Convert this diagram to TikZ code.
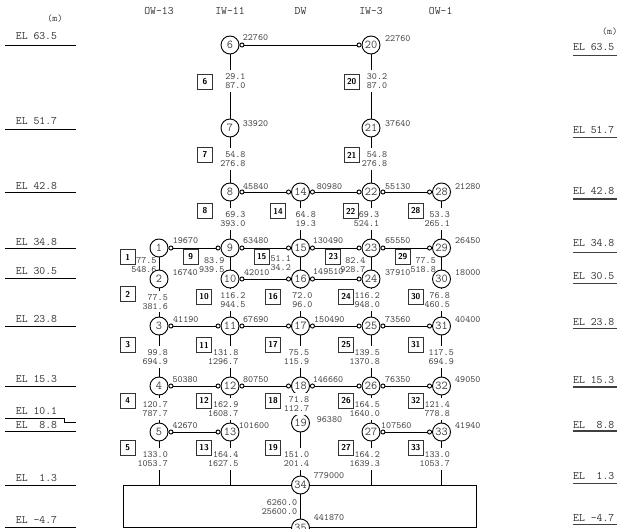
\documentclass[tikz,border=0pt]{standalone}
\usepackage{tikz}
\usetikzlibrary{arrows.meta}

\tikzset{
    frameline/.style={line width=0.9pt, black},
    pinned/.style={frameline, arrows={Circle[open,length=5pt]-Circle[open,length=5pt]}},
    joint/.style={circle, draw, fill=white, line width=0.9pt, minimum size=18pt, inner sep=0pt, text=black!75, font=\ttfamily\fontsize{12}{12}\selectfont},
    member/.style={draw, line width=0.9pt, black!80, minimum size=15pt, inner sep=0pt, text=black, font=\sffamily\bfseries\fontsize{8.5}{9}\selectfont},
    flow/.style={anchor=west, inner sep=0pt, text=black!75, font=\ttfamily\fontsize{9.6}{9}\selectfont},
    rate/.style={anchor=east, align=right, inner xsep=0pt, inner ysep=3pt, text=black!75, font=\ttfamily\fontsize{9.6}{9}\selectfont},
    ratecut/.style={rate, fill=white},
    level/.style={anchor=west, inner sep=0pt, text=black!80, font=\ttfamily\fontsize{11.4}{12}\selectfont},
    head/.style={inner sep=0pt, text=black!80, font=\ttfamily\fontsize{11.4}{12}\selectfont},
    unitmark/.style={inner sep=0pt, text=black!80, font=\ttfamily\fontsize{9.6}{12}\selectfont},
}

\begin{document}
\begin{tikzpicture}[x=1pt, y=-1pt]
    \useasboundingbox (0,0) rectangle (618,529);
    \fill[white] (0,0) rectangle (618,529);

    % column heads
    \foreach \n/\x/\t in {a/159/OW-13, b/230/IW-11, c/300.5/DW, d/371/IW-3, e/440.7/OW-1} {
        \node[head] (h\n) at (\x,11) {\t};
    }
    \node[unitmark] (uleft) at (55,19) {(m)};
    \node[unitmark, anchor=east] (uright) at (617.5,32) {(m)};

    % elevations, left
    \foreach \n/\ty/\ly/\t in {a/36/45/EL 63.5, b/120.7/129/EL 51.7, c/185.7/192/EL 42.8, d/241.7/248.3/EL 34.8, e/271/278.7/EL 30.5, f/319/326/EL 23.8, g/379/386/EL 15.3, h/425/431.7/EL~~8.8, i/477.7/485/EL~~1.3, j/520/527.3/EL -4.7} {
        \node[level] (el\n) at (15.7,\ty) {\t};
        \draw[frameline] (5,\ly) -- (76,\ly);
    }
    \node[level] (elk) at (15.7,410.7) {EL 10.1};
    \draw[frameline] (5,418.3) -- (64,418.3) -- (64,422.3) -- (76,422.3);

    % elevations, right
    \foreach \n/\ty/\ly/\t in {a/46.7/55.7/EL 63.5, b/130/137.5/EL 51.7, c/190.7/199/EL 42.8, d/243/252.7/EL 34.8, e/275.7/283.3/EL 30.5, f/321.7/328.3/EL 23.8, g/380/387/EL 15.3, h/425/431/EL~~8.8, i/476/483.3/EL~~1.3, j/517.7/524.3/EL -4.7} {
        \node[level] (er\n) at (573,\ty) {\t};
        \draw[line width=1.2pt, black!75] (572.7,\ly) -- (616.7,\ly);
    }

    % base frame
    \coordinate (ftl) at (123.7,485);
    \coordinate (fbr) at (476.7,527.3);
    \coordinate (f5) at (159,485);
    \coordinate (f13) at (230,485);
    \coordinate (f27) at (371,485);
    \coordinate (f33) at (441.5,485);
    \draw[frameline] (ftl) rectangle (fbr);

    % joints
    \foreach \n/\x/\y in {1/159/248, 2/159/279, 3/159/326, 4/159/386, 5/159/432,
        6/230/45, 7/230/128, 8/230/192, 9/230/248, 10/230/279, 11/230/326, 12/230/386, 13/230/432,
        14/300.5/192, 15/300.5/248, 16/300.5/279, 17/300.5/326, 18/300.5/386, 19/300.5/423,
        20/371/45, 21/371/128, 22/371/192, 23/371/248, 24/371/279, 25/371/326, 26/371/386, 27/371/432,
        28/441.5/192, 29/441.5/248, 30/441.5/279, 31/441.5/326, 32/441.5/386, 33/441.5/432,
        34/300.5/485, 35/300.5/528} {
        \node[joint] (n\n) at (\x,\y) {\n};
    }

    % columns
    \foreach \a/\b in {n1/n2, n2/n3, n3/n4, n4/n5, n5/f5,
        n6/n7, n7/n8, n8/n9, n9/n10, n10/n11, n11/n12, n12/n13, n13/f13,
        n14/n15, n15/n16, n16/n17, n17/n18, n18/n19, n19/n34, n34/n35,
        n20/n21, n21/n22, n22/n23, n23/n24, n24/n25, n25/n26, n26/n27, n27/f27,
        n28/n29, n29/n30, n30/n31, n31/n32, n32/n33, n33/f33} {
        \draw[frameline] (\a) -- (\b);
    }

    % beams
    \foreach \a/\b in {6/20, 8/14, 14/22, 22/28, 1/9, 9/15, 15/23, 23/29, 10/16, 16/24,
        3/11, 11/17, 17/25, 25/31, 4/12, 12/18, 18/26, 26/32, 5/13, 27/33} {
        \draw[pinned] (n\a) -- (n\b);
    }

    % flow values
    \foreach \n/\x/\y/\t in {1/172.7/240.7/19670, 2/172.3/273/16740, 3/173/320/41190, 4/172.3/380/50380, 5/172.3/426/42670,
        6/242.7/37.7/22760, 7/242.7/124/33920, 8/243/186.7/45840, 9/243/240.7/63480, 10/244/273/42010, 11/243/320/67690, 12/243/380/80750, 13/238.7/426/101600,
        14/316.7/187/80980, 15/312.7/241/130490, 16/313/272/149510, 17/314/320/150490, 18/312.7/380/146660, 19/316.7/420/96380,
        20/385/39/22760, 21/385/124/37640, 22/385/187/55130, 23/385/241/65550, 24/385/273/37910, 25/385/320/73560, 26/385/380/76350, 27/381/426/107560,
        28/455/187/21280, 29/455/241/26450, 30/455/273/18000, 31/455/320/40400, 32/455/380/49050, 33/455/426/41940,
        34/313.7/475.7/779000, 35/313.7/518/441870} {
        \node[flow] (v\n) at (\x,\y) {\t};
    }

    % rates sitting on a column
    \foreach \n/\x/\y/\p/\q in {2/168/301.7/77.5/381.6, 3/168/357/99.8/694.9, 4/168/409/120.7/787.7, 5/168/459/133.0/1053.7,
        6/245.7/81/29.1/87.0, 7/245.7/159/54.8/276.8, 8/245.7/219/69.3/393.0, 10/245.7/300/116.2/944.5, 11/238.5/357/131.8/1296.7, 12/238.5/409/162.9/1608.7, 13/238.5/459/164.4/1627.5,
        14/316/219/64.8/19.3, 16/312.7/300/72.0/96.0, 17/309.3/357/75.5/115.9, 18/309.3/404/71.8/112.7, 19/309.3/459/151.0/201.4,
        20/387.3/81/30.2/87.0, 21/387.3/159/54.8/276.8, 22/379.3/219/69.3/524.1, 24/380/300/116.2/948.0, 25/380/357/139.5/1370.8, 26/380/409/164.5/1640.0, 27/380/459/164.2/1639.3,
        28/450/219/53.3/265.1, 30/450/300/76.8/460.5, 31/454/357/117.5/694.9, 32/450/409/121.4/778.8, 33/450/459/133.0/1053.7} {
        \node[ratecut] (r\n) at (\x,\y) {\p\\\q};
    }

    % rates beside a column
    \foreach \n/\x/\y/\p/\q in {1/156.7/265/77.5/548.6, 9/224.5/265/83.9/939.5, 15/291/263/51.1/34.2, 23/365.7/265/82.4/928.7, 29/436/265/77.5/518.8, 34/297.3/507/6260.0/25600.0} {
        \node[rate] (r\n) at (\x,\y) {\p\\\q};
    }

    % member numbers
    \foreach \n/\x/\y in {1/127.7/257, 2/127.7/294, 3/127.7/345, 4/127.7/400.7, 5/127.7/448,
        6/205/82, 7/205/155, 8/205/211, 9/190.7/256.7, 10/204/296.7, 11/204/345, 12/204/400.7, 13/204/448,
        14/278/211, 15/261.7/257, 16/273/297, 17/273/345, 18/273/400.7, 19/273/448,
        20/351.7/82, 21/351.7/155, 22/350.7/211, 23/333.3/257, 24/346/296.7, 25/346/345, 26/346/400.7, 27/346/448,
        28/415.7/211, 29/402.7/257, 30/415.7/296.7, 31/415.7/345, 32/415.7/400.7, 33/415.7/448} {
        \node[member] (b\n) at (\x,\y) {\n};
    }
\end{tikzpicture}
\end{document}
